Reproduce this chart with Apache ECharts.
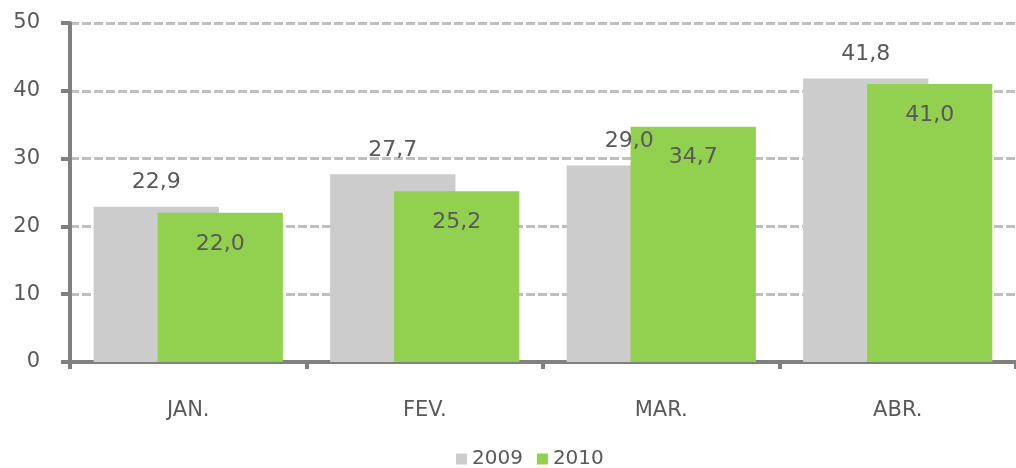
<!DOCTYPE html>
<html>
<head>
<meta charset="utf-8" />
<title>2009 x 2010</title>
<style>
  html, body { margin: 0; padding: 0; background: #fff; }
  #chart { width: 1016px; height: 468px; }
</style>
</head>
<body>
<div id="chart"></div>
<script src="https://cdn.jsdelivr.net/npm/echarts@6/dist/echarts.min.js"></script>
<script>
// dados
var meses = ['JAN.', 'FEV.', 'MAR.', 'ABR.'];
var valores2009 = [22.9, 27.7, 29.0, 41.8];
var valores2010 = [22.0, 25.2, 34.7, 41.0];
var nomes = ['2009', '2010'];

var fonte = 'Verdana, "DejaVu Sans", sans-serif';
var cinzaTexto = '#595959';

function virgula(p) {
  return p.value.toFixed(1).replace('.', ',');
}

var chart = echarts.init(document.getElementById('chart'));

chart.setOption({
  animation: false,
  textStyle: { fontFamily: fonte },
  grid: { left: 70, right: -12, top: 23, bottom: 106 },
  legend: {
    top: 449,
    left: 456,
    padding: 0,
    itemWidth: 11,
    itemHeight: 11,
    itemGap: 14,
    icon: 'rect',
    textStyle: { fontSize: 20, color: cinzaTexto, fontFamily: fonte },
    data: nomes
  },
  xAxis: {
    type: 'category',
    data: meses,
    axisLine: { lineStyle: { color: '#808080', width: 4 } },
    axisTick: { show: true, length: 7, lineStyle: { color: '#808080', width: 4 } },
    axisLabel: { color: cinzaTexto, fontSize: 21, margin: 38, fontFamily: fonte }
  },
  yAxis: {
    type: 'value',
    min: 0,
    max: 50,
    interval: 10,
    axisLine: { show: true, lineStyle: { color: '#808080', width: 4 } },
    axisTick: { show: true, length: 9, lineStyle: { color: '#808080', width: 4 } },
    axisLabel: { color: cinzaTexto, fontSize: 21, margin: 30, fontFamily: fonte },
    splitLine: { lineStyle: { color: '#bfbfbf', width: 3, type: [9, 3] } }
  },
  series: [
    {
      name: nomes[0],
      type: 'bar',
      data: valores2009,
      barCategoryGap: '20%',
      barGap: '-49%',
      itemStyle: { color: '#cccccc' },
      label: {
        show: true,
        position: 'top',
        distance: 13,
        color: cinzaTexto,
        fontSize: 22,
        fontFamily: fonte,
        formatter: virgula
      }
    },
    {
      name: nomes[1],
      type: 'bar',
      data: valores2010,
      barCategoryGap: '20%',
      barGap: '-49%',
      itemStyle: { color: '#92d050' },
      label: {
        show: true,
        position: 'insideTop',
        distance: 20,
        color: cinzaTexto,
        fontSize: 22,
        fontFamily: fonte,
        formatter: virgula
      }
    }
  ]
});
</script>
</body>
</html>
